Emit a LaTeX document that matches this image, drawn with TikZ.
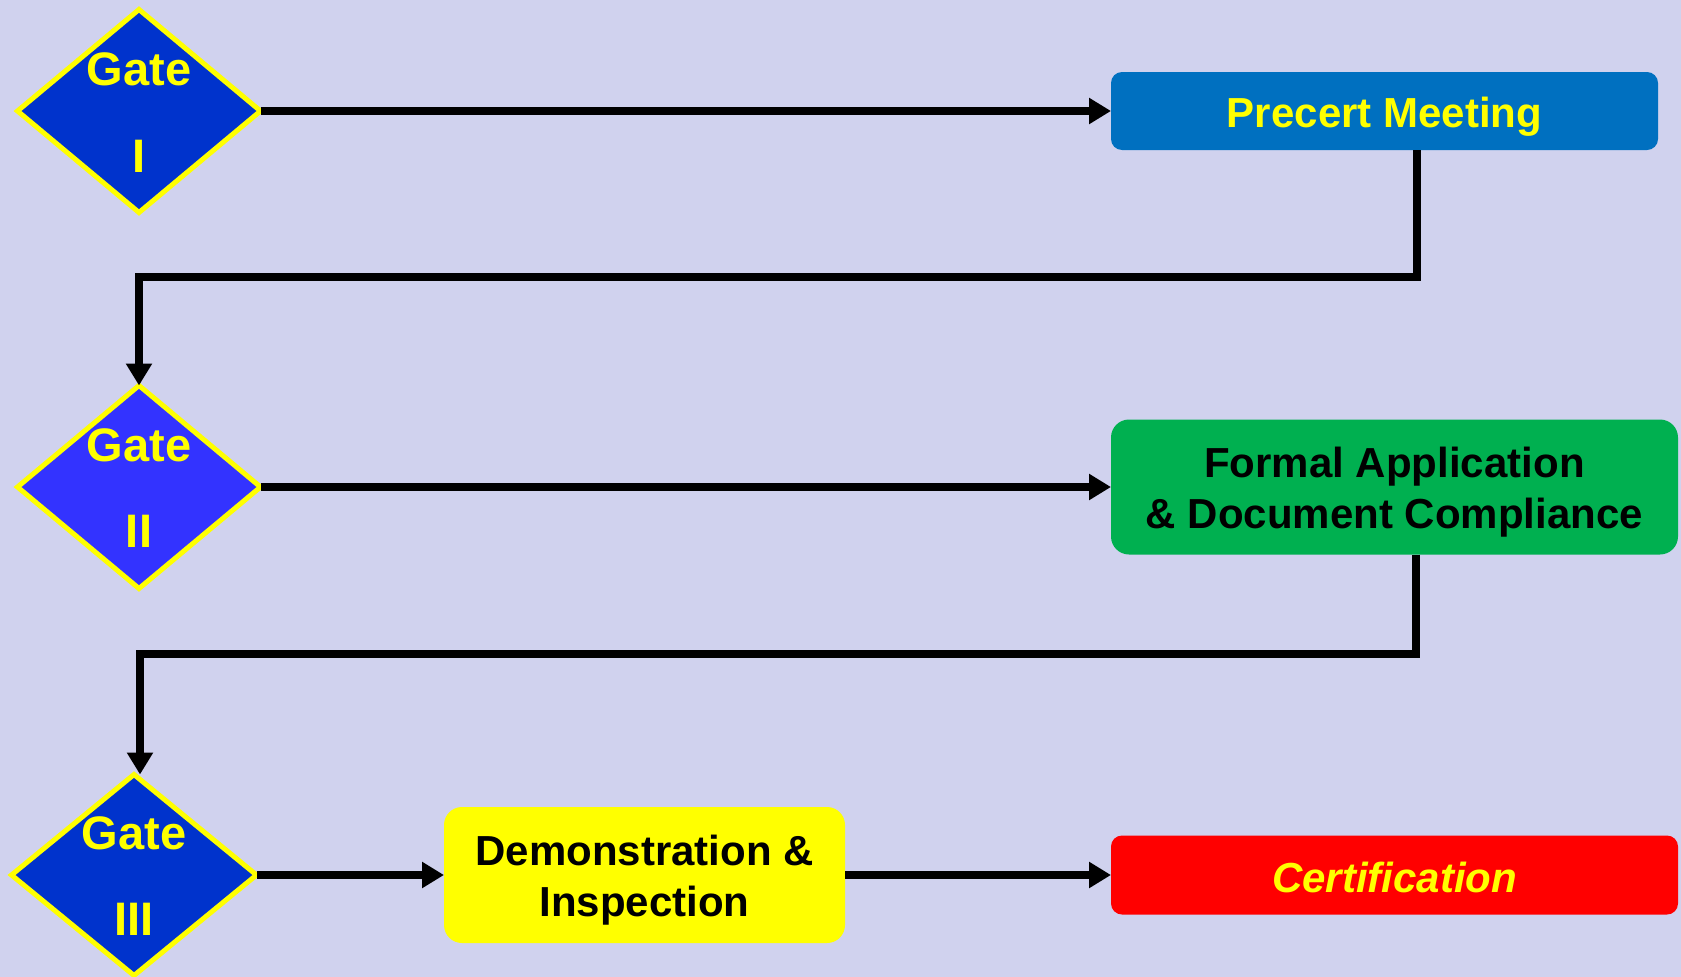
\documentclass[tikz,border=0pt]{standalone}
\usepackage{fontspec}
\setmainfont{Liberation Sans}
\usetikzlibrary{shapes.geometric,arrows.meta,calc}
\definecolor{bgc}{RGB}{208,210,238}
\definecolor{gateblue}{RGB}{0,51,204}
\definecolor{gatebright}{RGB}{51,51,255}
\definecolor{boxblue}{RGB}{0,112,192}
\definecolor{boxgreen}{RGB}{0,176,80}
\definecolor{boxred}{RGB}{255,0,0}
\definecolor{yel}{RGB}{255,255,0}
\tikzset{
  gate/.style={diamond, draw=yel, line width=5pt, inner sep=0pt, outer sep=0pt},
  gatetxt/.style={anchor=base, text=yel, inner sep=0pt, font=\fontsize{47}{47}\selectfont\bfseries},
  boxnode/.style={rectangle, inner sep=0pt, outer sep=0pt},
  boxtxt/.style={inner sep=0pt, align=center, font=\fontsize{42}{51}\selectfont\bfseries},
  arr/.style={line width=8pt, -{Triangle[length=22pt,width=25pt]}}
}
\begin{document}
\begin{tikzpicture}[x=1pt,y=-1pt]
\fill[bgc] (0,0) rectangle (1681,977);
\useasboundingbox (0,0) rectangle (1681,977);

% gates
\node[gate, fill=gateblue, minimum width=243pt, minimum height=203pt] (g1) at (139,111) {};
\node[gate, fill=gatebright, minimum width=243pt, minimum height=203pt] (g2) at (139,487) {};
\node[gate, fill=gateblue, minimum width=245pt, minimum height=201pt] (g3) at (134,875) {};
\node[gatetxt] (g1a) at ($(g1.center)+(0,-26)$) {Gate};
\node[gatetxt] (g1b) at ($(g1.center)+(0,61)$) {I};
\node[gatetxt] (g2a) at ($(g2.center)+(0,-26)$) {Gate};
\node[gatetxt] (g2b) at ($(g2.center)+(0,60)$) {II};
\node[gatetxt] (g3a) at ($(g3.center)+(0,-26)$) {Gate};
\node[gatetxt] (g3b) at ($(g3.center)+(0,60)$) {III};

% boxes
\node[boxnode, fill=boxblue, rounded corners=11pt, minimum width=547pt, minimum height=78pt] (pm) at (1384.5,111) {};
\node[boxnode, fill=boxgreen, rounded corners=18pt, minimum width=567pt, minimum height=135pt] (fa) at (1394.5,487) {};
\node[boxnode, fill=yel, rounded corners=18pt, minimum width=401pt, minimum height=136pt] (di) at (644.5,875) {};
\node[boxnode, fill=boxred, rounded corners=11pt, minimum width=567pt, minimum height=79pt] (ce) at (1394.5,875) {};

\node[boxtxt, text=yel, text height=30pt, text depth=0pt] (pmt) at ($(pm.center)+(0,1.5)$) {Precert Meeting};
\node[boxtxt, text=black] (fat) at ($(fa.center)+(0,5)$) {Formal Application\\\& Document Compliance};
\node[boxtxt, text=black] (dit) at ($(di.center)+(0,5)$) {Demonstration \&\\Inspection};
\node[boxtxt, text=yel, font=\fontsize{42}{51}\selectfont\bfseries\itshape, text height=30pt, text depth=0pt] (cet) at ($(ce.center)+(0,2)$) {Certification};

% connectors
\coordinate (k1) at (140,277);
\coordinate (k2) at (140,654);
\draw[arr] (g1.east) -- (pm.west);
\draw[arr] ([xshift=32.5pt]pm.south) |- (g2.north |- k1) -- (g2.north);
\draw[arr] (g2.east) -- (fa.west);
\draw[arr] ([xshift=21.5pt]fa.south) |- (k2) -- (k2 |- g3.north);
\draw[arr] (g3.east) -- (di.west);
\draw[arr] (di.east) -- (ce.west);
\end{tikzpicture}
\end{document}
